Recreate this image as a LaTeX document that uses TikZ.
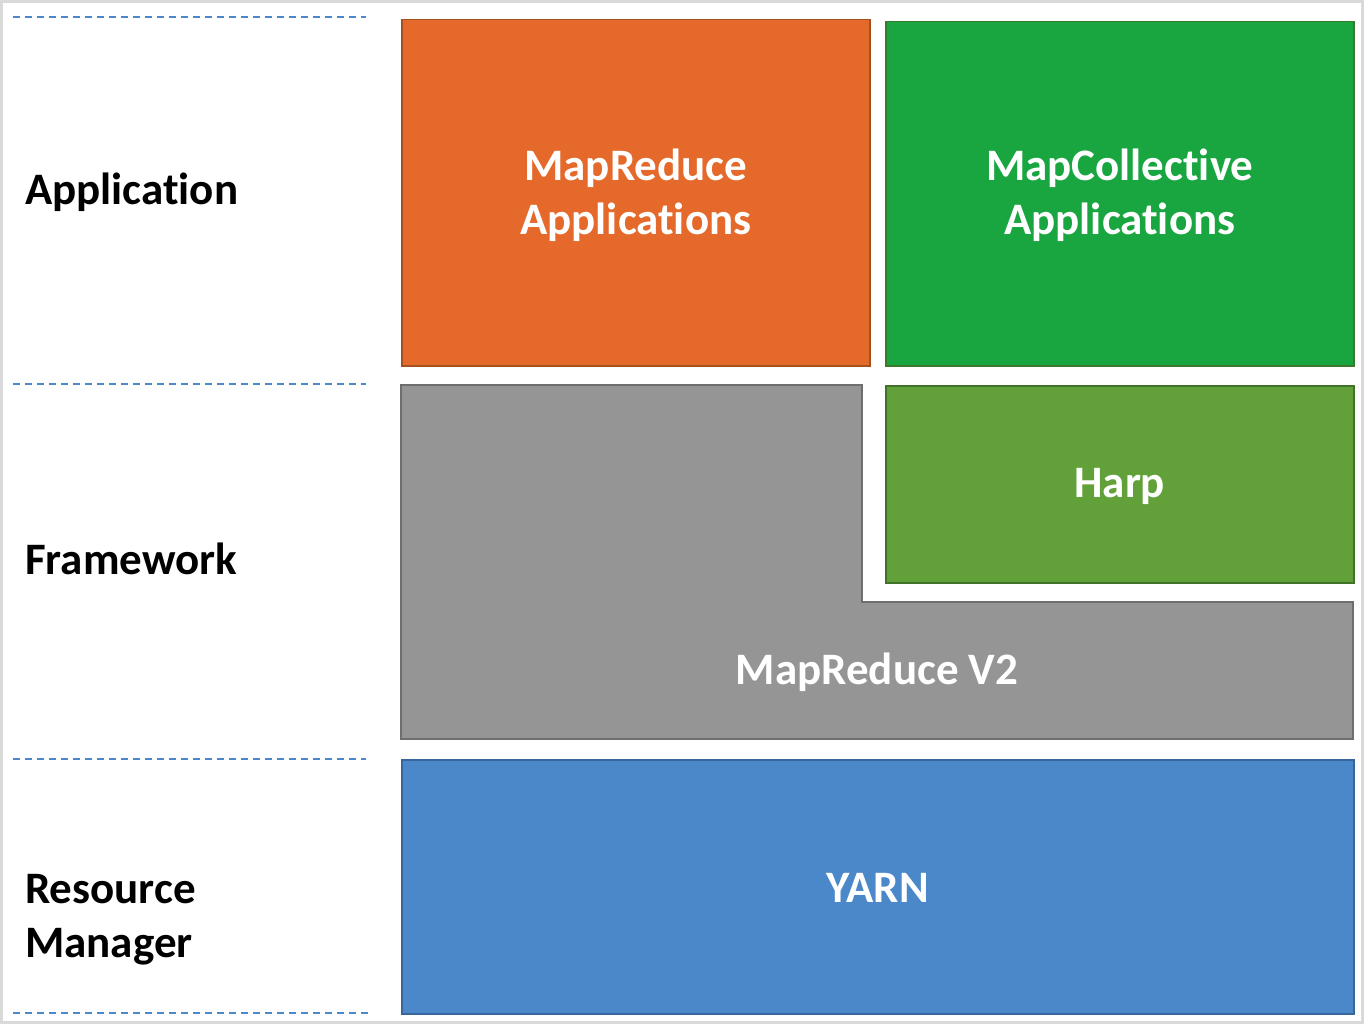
\documentclass[tikz,border=0pt]{standalone}
\usepackage{fontspec}
\setmainfont{Carlito}[Ligatures=NoCommon]
\definecolor{frameC}{HTML}{D9D9D9}
\definecolor{dashC}{HTML}{4A88CA}
\definecolor{orangeF}{HTML}{E5692A}
\definecolor{orangeD}{HTML}{A5501F}
\definecolor{greenF}{HTML}{19A640}
\definecolor{greenD}{HTML}{3C7A2B}
\definecolor{harpF}{HTML}{62A13A}
\definecolor{harpD}{HTML}{41722A}
\definecolor{grayF}{HTML}{959595}
\definecolor{grayD}{HTML}{6E6E6E}
\definecolor{yarnF}{HTML}{4A88CA}
\definecolor{yarnD}{HTML}{36669B}
\tikzset{
  layerbox/.style={draw, line width=1.5pt, inner sep=0pt, anchor=north west},
  boxtext/.style={text=white, font=\bfseries\fontsize{45}{54}\selectfont, align=center, inner sep=0pt},
  sidetext/.style={text=black, font=\bfseries\fontsize{45}{54}\selectfont, align=left, anchor=west, inner sep=0pt},
  sepline/.style={draw=dashC, line width=2.4pt, dash pattern=on 7pt off 5pt}
}
\begin{document}
\begin{tikzpicture}[x=1pt,y=-1pt]
\useasboundingbox (0,0) rectangle (1364,1024);
\fill[white] (0,0) rectangle (1364,1024);
\draw[frameC, line width=3pt] (1.5,1.5) rectangle (1362.5,1022.5);
% separators
\coordinate (s1a) at (13,17);  \coordinate (s1b) at (366,17);
\coordinate (s2a) at (13,384); \coordinate (s2b) at (366,384);
\coordinate (s3a) at (13,759); \coordinate (s3b) at (366,759);
\coordinate (s4a) at (13,1013);\coordinate (s4b) at (372,1013);
\draw[sepline] (s1a) -- (s1b);
\draw[sepline] (s2a) -- (s2b);
\draw[sepline] (s3a) -- (s3b);
\draw[sepline] (s4a) -- (s4b);
% side labels
\node[sidetext] (lapp) at (25,192) {Application};
\node[sidetext] (lfw) at (25,559) {Framework};
\node[sidetext] (lrm) at (25,920) {Resource\\Manager};
% boxes
\node[layerbox, fill=orangeF, draw=orangeD, minimum width=468pt, minimum height=346pt] (mrapp) at (401,19) {};
\node[boxtext] (mrappt) at ([yshift=-3pt]mrapp.center) {MapReduce\\Applications};
\node[layerbox, fill=greenF, draw=greenD, minimum width=468pt, minimum height=344pt] (mcapp) at (885,21) {};
\node[boxtext] (mcappt) at ([yshift=-2pt]mcapp.center) {MapCollective\\Applications};
\node[layerbox, fill=harpF, draw=harpD, minimum width=468pt, minimum height=197pt] (harp) at (885,385) {};
\node[boxtext] (harpt) at ([yshift=-2pt]harp.center) {Harp};
% MapReduce V2 L-shape
\coordinate (g1) at (401,385);
\coordinate (g2) at (862,385);
\coordinate (g3) at (862,602);
\coordinate (g4) at (1353,602);
\coordinate (g5) at (1353,739);
\coordinate (g6) at (401,739);
\draw[fill=grayF, draw=grayD, line width=1.5pt] (g1) -- (g2) -- (g3) -- (g4) -- (g5) -- (g6) -- cycle;
\node[boxtext] (mrv2) at (877,672) {MapReduce V2};
\node[layerbox, fill=yarnF, draw=yarnD, minimum width=952pt, minimum height=254pt] (yarn) at (401,759) {};
\node[boxtext] (yarnt) at ([yshift=-1pt]yarn.center) {YARN};
\end{tikzpicture}
\end{document}
